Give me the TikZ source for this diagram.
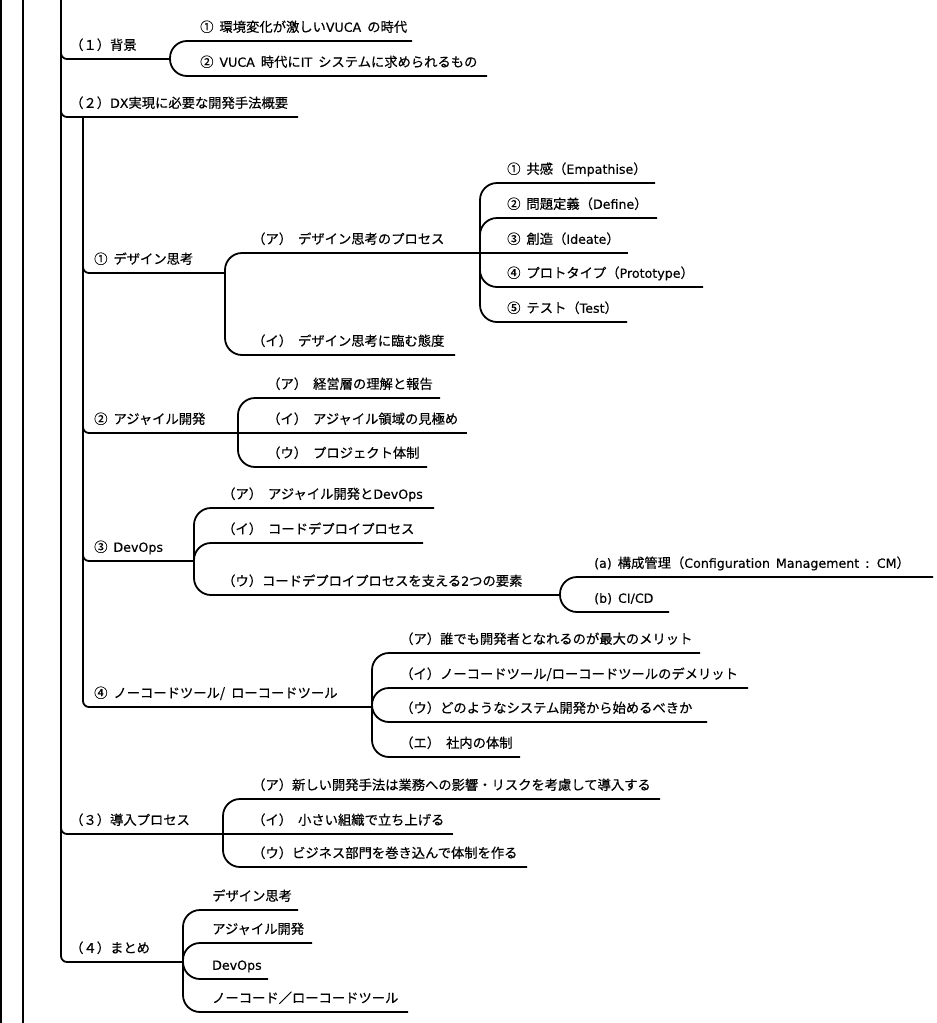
\documentclass[tikz,border=0pt]{standalone}
\usepackage{fontspec}
\setmainfont{Noto Sans CJK JP}[FakeBold=0.4]
\newfontfamily\latf{DejaVu Sans}[Scale=0.95, FakeBold=0.3]
\newcommand\lat[1]{{\latf #1}}
\usetikzlibrary{calc}
\tikzset{
  topic/.style={anchor=south west, inner xsep=0pt, inner ysep=9pt, text depth=0pt,
    font=\fontsize{13.3pt}{16pt}\selectfont,
    execute at begin node={\spaceskip=6pt\relax}},
  wire/.style={line width=1.8pt},
  trunk/.style={wire, rounded corners=6pt},
  link/.style={wire, rounded corners=17pt},
}
% #1 name, #2 text x, #3 line y, #4 line end x, #5 label
\newcommand\topic[5]{\node[topic] (#1) at (#2,#3) {#5};
  \coordinate (#1e) at ($(#1.south west)+(#4-#2,0)$);}
\begin{document}
\begin{tikzpicture}[x=1pt, y=-1pt]
\useasboundingbox (0,0) rectangle (937,1023);
\fill[white] (0,0) rectangle (937,1023);

% outer frame lines
\coordinate (fa1) at (1,0);   \coordinate (fa2) at (1,1023);
\coordinate (fb1) at (23,0);  \coordinate (fb2) at (23,1023);
\draw[line width=1.2pt] (fa1) -- (fa2);
\draw[wire] (fb1) -- (fb2);
\coordinate (root) at (61,0);

% level 1
\topic{p1}{70}{59}{170}{（１）背景}
\topic{p2}{70}{117}{298}{（２）\lat{DX}実現に必要な開発手法概要}
\topic{p3}{70}{834}{223}{（３）導入プロセス}
\topic{p4}{70}{962}{183}{（４）まとめ}

% (1)
\topic{c11}{200}{41}{412}{① 環境変化が激しい\lat{VUCA} の時代}
\topic{c12}{200}{76}{487}{② \lat{VUCA} 時代に\lat{IT} システムに求められるもの}

% (2)
\topic{q1}{94}{273}{225}{① デザイン思考}
\topic{q1a}{252}{253}{480}{（ア） デザイン思考のプロセス}
\topic{r1}{507}{183}{655}{① 共感（\lat{Empathise}）}
\topic{r2}{507}{218}{657}{② 問題定義（\lat{Define}）}
\topic{r3}{507}{253}{628}{③ 創造（\lat{Ideate}）}
\topic{r4}{507}{287}{703}{④ プロトタイプ（\lat{Prototype}）}
\topic{r5}{507}{322}{627}{⑤ テスト（\lat{Test}）}
\topic{q1b}{252}{355}{455}{（イ） デザイン思考に臨む態度}

\topic{q2}{94}{433}{238}{② アジャイル開発}
\topic{q2a}{267}{398}{440}{（ア） 経営層の理解と報告}
\topic{q2b}{267}{433}{467}{（イ） アジャイル領域の見極め}
\topic{q2c}{267}{467}{427}{（ウ） プロジェクト体制}

\topic{q3}{94}{561}{194}{③ \lat{DevOps}}
\topic{q3a}{222}{508}{434}{（ア） アジャイル開発と\lat{DevOps}}
\topic{q3b}{222}{543}{423}{（イ） コードデプロイプロセス}
\topic{q3c}{222}{595}{560}{（ウ）コードデプロイプロセスを支える\lat{2}つの要素}
\topic{s1}{594}{577}{933}{\lat{(a)} 構成管理（\lat{Configuration Management : CM}）}
\topic{s2}{594}{612}{669}{\lat{(b) CI/CD}}

\topic{q4}{94}{707}{372}{④ ノーコードツール/ ローコードツール}
\topic{q4a}{400}{653}{700}{（ア）誰でも開発者となれるのが最大のメリット}
\topic{q4b}{400}{688}{748}{（イ）ノーコードツール/ローコードツールのデメリット}
\topic{q4c}{400}{722}{707}{（ウ）どのようなシステム開発から始めるべきか}
\topic{q4d}{400}{757}{520}{（エ） 社内の体制}

% (3)
\topic{t1}{252}{799}{660}{（ア）新しい開発手法は業務への影響・リスクを考慮して導入する}
\topic{t2}{252}{834}{453}{（イ） 小さい組織で立ち上げる}
\topic{t3}{252}{867}{527}{（ウ）ビジネス部門を巻き込んで体制を作る}

% (4)
\topic{u1}{212}{910}{298}{デザイン思考}
\topic{u2}{212}{943}{312}{アジャイル開発}
\topic{u3}{212}{979}{268}{\lat{DevOps}}
\topic{u4}{212}{1012}{408}{ノーコード／ローコードツール}

% trunk and level-1 branches
\draw[trunk] (root) |- (p1e);
\draw[trunk] (root) |- (p2e);
\draw[trunk] (root) |- (p3e);
\draw[trunk] (root) |- (p4e);

\draw[link] (p1e) |- (c11e);
\draw[link] (p1e) |- (c12e);

\coordinate (p2s) at ($(p2.south west)+(13,0)$);
\draw[trunk] (p2s) |- (q1e);
\draw[trunk] (p2s) |- (q2e);
\draw[trunk] (p2s) |- (q3e);
\draw[trunk] (p2s) |- (q4e);

\draw[link] (q1e) |- (q1ae);
\draw[link] (q1e) |- (q1be);
\draw[link] (q1ae) |- (r1e);
\draw[link] (q1ae) |- (r2e);
\draw[wire] (q1ae) -- (r3e);
\draw[link] (q1ae) |- (r4e);
\draw[link] (q1ae) |- (r5e);

\draw[link] (q2e) |- (q2ae);
\draw[wire] (q2e) -- (q2be);
\draw[link] (q2e) |- (q2ce);

\draw[link] (q3e) |- (q3ae);
\draw[link] (q3e) |- (q3be);
\draw[link] (q3e) |- (q3ce);
\draw[link] (q3ce) |- (s1e);
\draw[link] (q3ce) |- (s2e);

\draw[link] (q4e) |- (q4ae);
\draw[link] (q4e) |- (q4be);
\draw[link] (q4e) |- (q4ce);
\draw[link] (q4e) |- (q4de);

\draw[link] (p3e) |- (t1e);
\draw[wire] (p3e) -- (t2e);
\draw[link] (p3e) |- (t3e);

\draw[link] (p4e) |- (u1e);
\draw[link] (p4e) |- (u2e);
\draw[link] (p4e) |- (u3e);
\draw[link] (p4e) |- (u4e);
\end{tikzpicture}
\end{document}
